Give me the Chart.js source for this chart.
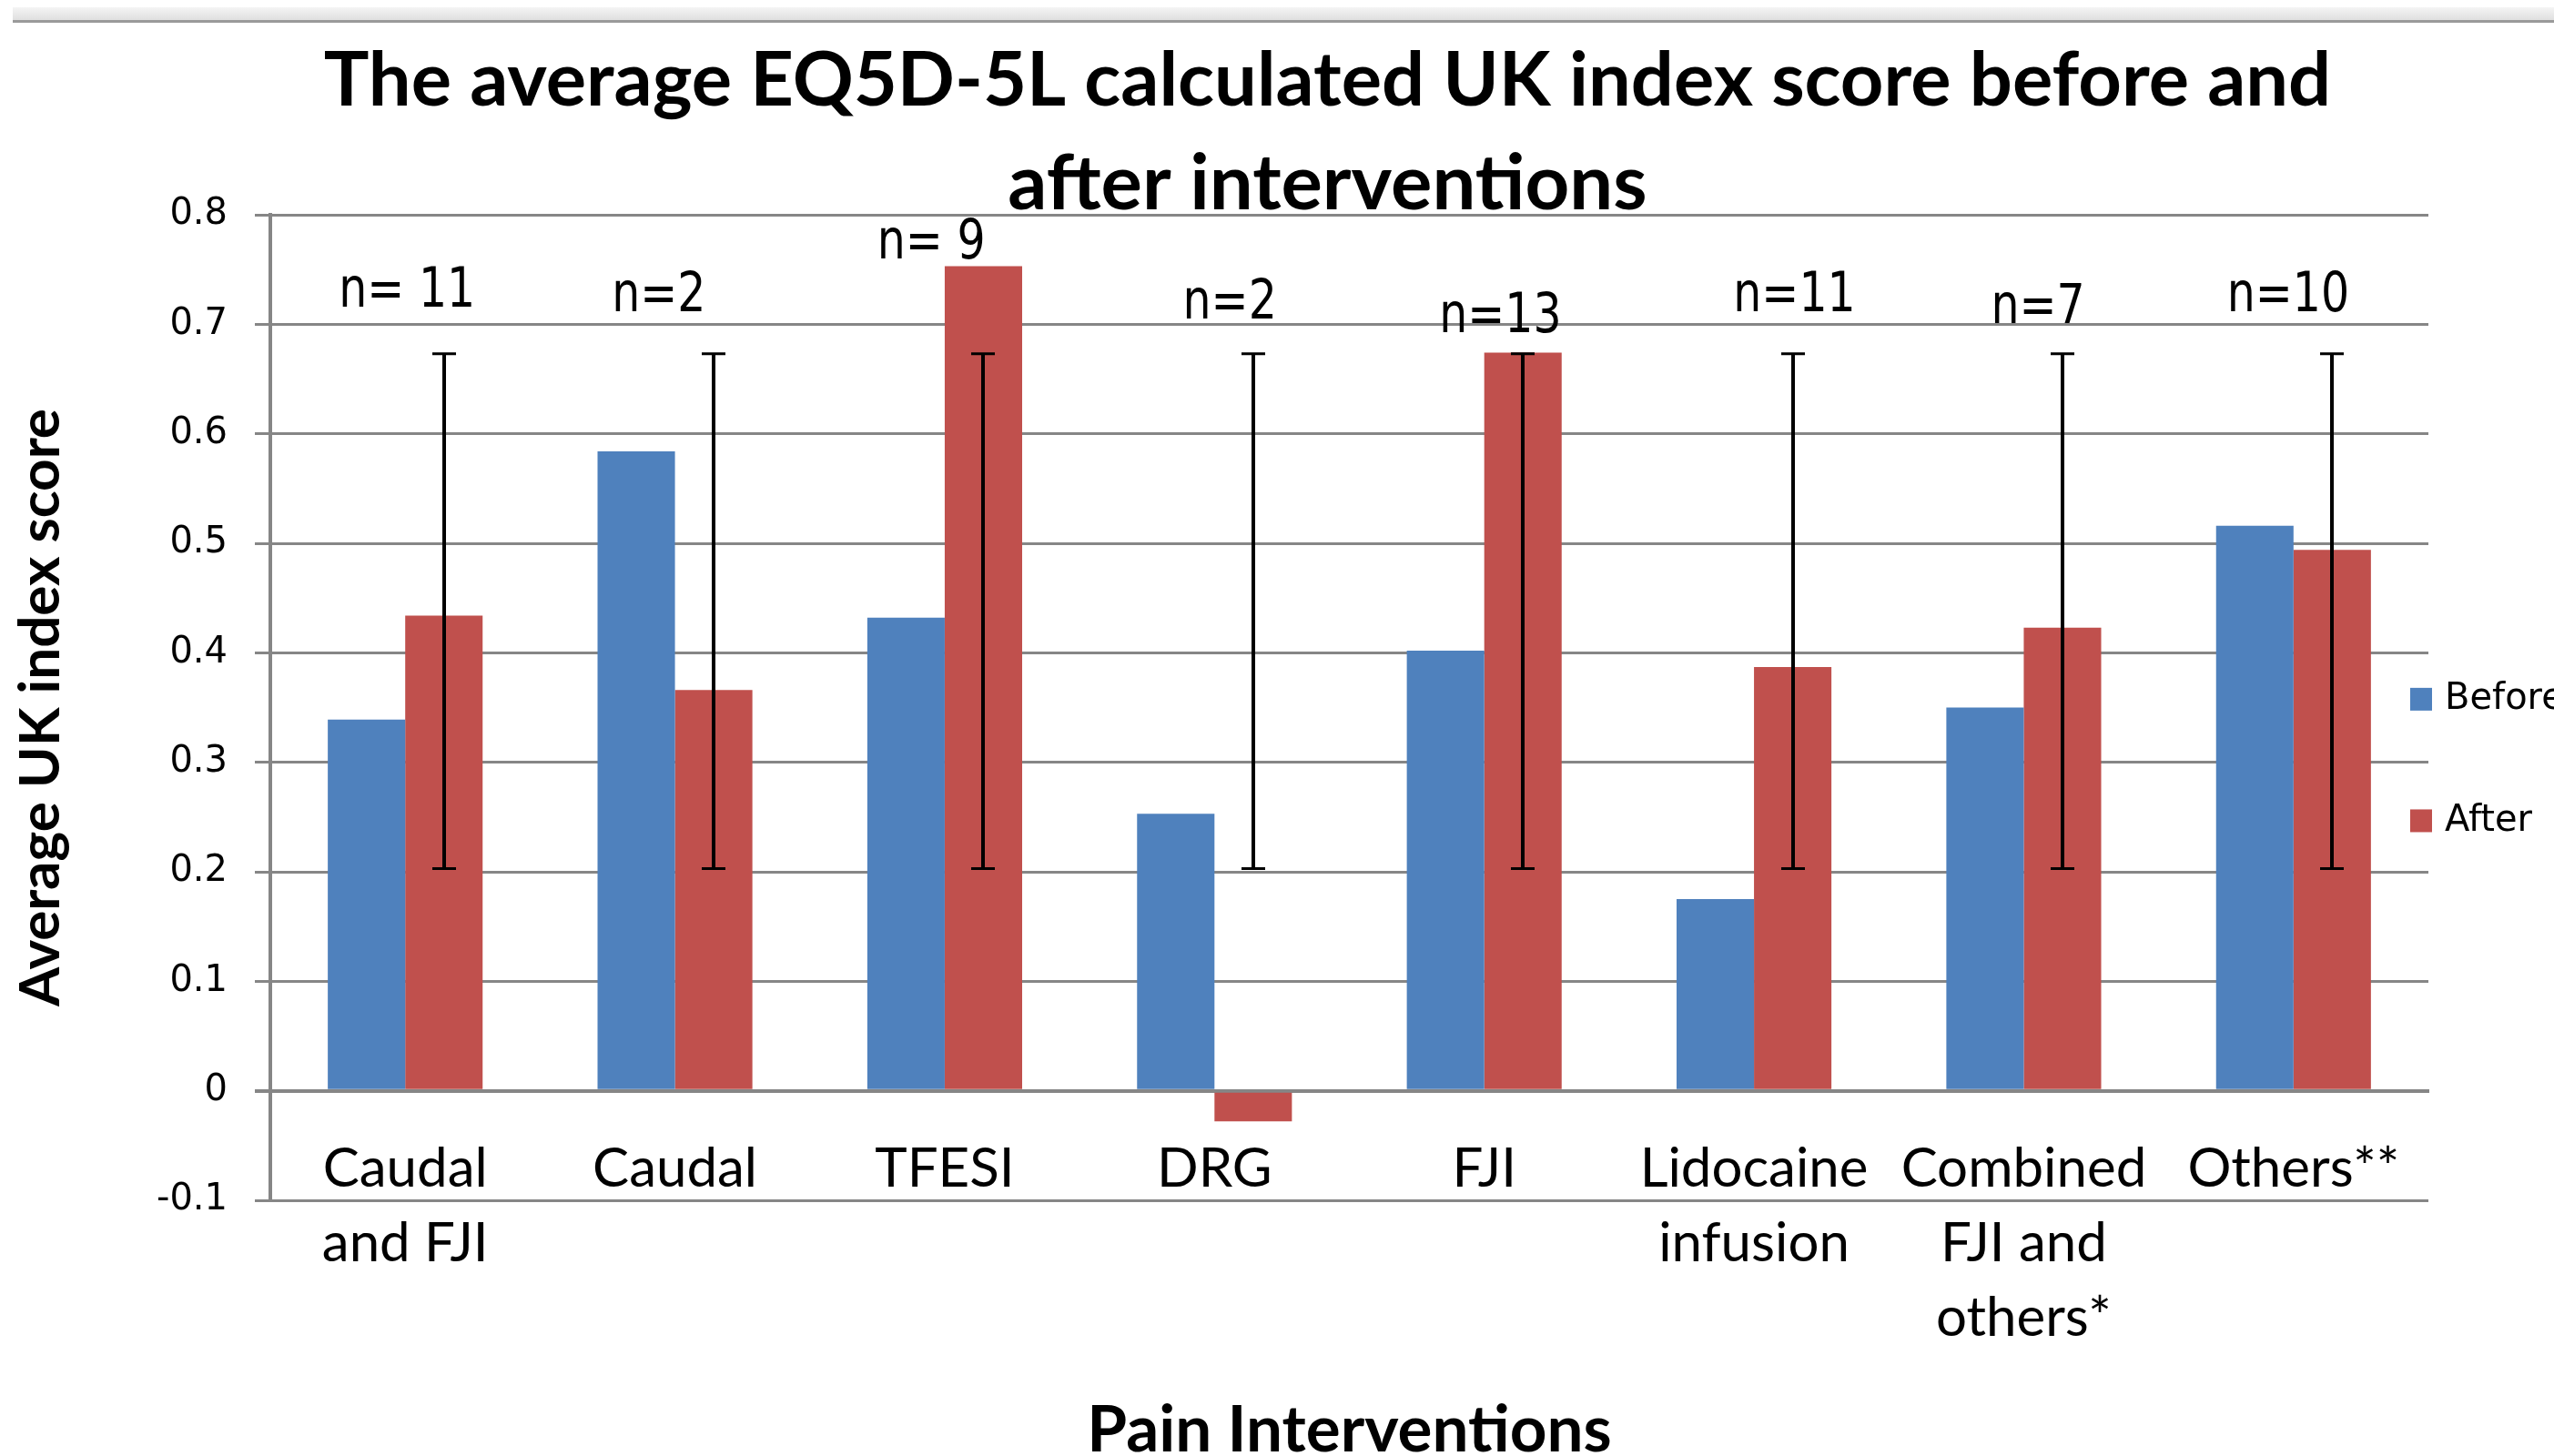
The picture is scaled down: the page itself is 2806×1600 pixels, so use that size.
<!DOCTYPE html>
<html>
<head>
<meta charset="utf-8">
<script src="https://cdn.jsdelivr.net/npm/chart.js@4.4.1/dist/chart.umd.min.js"></script>
<style>
  html, body { margin: 0; padding: 0; background: #ffffff; }
  #wrap { width: 2806px; height: 1600px; position: relative; }
</style>
</head>
<body>
<div id="wrap"><canvas id="c"></canvas></div>
<script>
// ---------------- data ----------------
const categories = [['Caudal', 'and FJI'], 'Caudal', 'TFESI', 'DRG', 'FJI', ['Lidocaine', 'infusion'], ['Combined', 'FJI and', 'others*'], 'Others**'];
const seriesNames = ['Before', 'After'];
const beforeValues = [0.339, 0.584, 0.432, 0.253, 0.402, 0.175, 0.350, 0.516];
const afterValues = [0.434, 0.366, 0.753, -0.028, 0.674, 0.387, 0.423, 0.494];
const errorLow = [0.203, 0.203, 0.203, 0.203, 0.203, 0.203, 0.203, 0.203];
const errorHigh = [0.673, 0.673, 0.673, 0.673, 0.673, 0.673, 0.673, 0.673];
const sampleSizes = ['n= 11', 'n=2', 'n= 9', 'n=2', 'n=13', 'n=11', 'n=7', 'n=10'];
const yTickLabels = ['-0.1', '0', '0.1', '0.2', '0.3', '0.4', '0.5', '0.6', '0.7', '0.8'];
const titleLines = ['The average EQ5D-5L calculated UK index score before and', 'after interventions'];
const xTitle = 'Pain Interventions';
const yTitle = 'Average UK index score';

// annotation placement of the "n=" text boxes (category offset, value height)
const nLabelShift = [0.007, -0.06, -0.05, 0.057, 0.06, 0.15, 0.053, -0.02];
const nLabelHeight = [0.729, 0.725, 0.773, 0.718, 0.706, 0.725, 0.714, 0.725];

const BLUE = '#4F81BD';
const RED = '#C0504D';
const GRID = '#868686';

const overlay = {
  id: 'overlay',
  beforeDraw(chart) {
    const ctx = chart.ctx;
    ctx.save();
    ctx.fillStyle = '#ffffff';
    ctx.fillRect(0, 0, chart.width, chart.height);
    // top strip (window ruler)
    const g = ctx.createLinearGradient(0, 8, 0, 24);
    g.addColorStop(0, '#f4f4f4');
    g.addColorStop(1, '#dcdcdc');
    ctx.fillStyle = g;
    ctx.fillRect(14, 8, chart.width - 14, 15);
    ctx.fillStyle = '#9a9a9a';
    ctx.fillRect(14, 22, chart.width - 14, 3);
    ctx.restore();
  },
  afterDatasetsDraw(chart) {
    const ctx = chart.ctx;
    const y = chart.scales.y;
    const meta = chart.getDatasetMeta(1);
    ctx.save();
    ctx.strokeStyle = '#000000';
    ctx.lineWidth = 4;
    meta.data.forEach((bar, i) => {
      const x = Math.round(bar.x);
      const yt = y.getPixelForValue(errorHigh[i]);
      const yb = y.getPixelForValue(errorLow[i]);
      ctx.beginPath();
      ctx.moveTo(x, yt); ctx.lineTo(x, yb);
      ctx.stroke();
      ctx.lineWidth = 3;
      ctx.beginPath();
      ctx.moveTo(x - 13, yt); ctx.lineTo(x + 13, yt);
      ctx.moveTo(x - 13, yb); ctx.lineTo(x + 13, yb);
      ctx.stroke();
      ctx.lineWidth = 4;
    });
    ctx.restore();
  },
  afterDraw(chart) {
    const ctx = chart.ctx;
    const xs = chart.scales.x;
    const ys = chart.scales.y;
    const area = chart.chartArea;
    const catW = (area.right - area.left) / categories.length;
    ctx.save();
    // n= labels
    ctx.fillStyle = '#000000';
    ctx.font = '49px "DejaVu Sans"';
    ctx.textAlign = 'center';
    ctx.textBaseline = 'middle';
    sampleSizes.forEach((t, i) => {
      const x = xs.getPixelForValue(i) + nLabelShift[i] * catW;
      const yy = ys.getPixelForValue(nLabelHeight[i]);
      ctx.save();
      ctx.translate(x, yy);
      ctx.scale(1, 1.22);
      ctx.fillText(t, 0, 0);
      ctx.restore();
    });
    // title
    ctx.font = 'bold 83px Lato';
    ctx.textAlign = 'center';
    ctx.textBaseline = 'alphabetic';
    const tx = (area.left + area.right) / 2 - 24;
    ctx.fillText(titleLines[0], tx, area.top - 120);
    ctx.font = 'bold 85px Lato';
    ctx.fillText(titleLines[1], tx, area.top - 6);
    // legend
    ctx.font = '40px "DejaVu Sans"';
    ctx.textAlign = 'left';
    ctx.textBaseline = 'middle';
    const lx = area.right - 20;
    const legendY = [ys.getPixelForValue(0.358), ys.getPixelForValue(0.247)];
    chart.data.datasets.forEach((ds, i) => {
      ctx.fillStyle = ds.backgroundColor;
      ctx.fillRect(lx, legendY[i] - 12, 24, 25);
      ctx.fillStyle = '#000000';
      ctx.fillText(ds.label, lx + 38, legendY[i] + 1);
    });
    ctx.restore();
  }
};

new Chart(document.getElementById('c'), {
  type: 'bar',
  data: {
    labels: categories,
    datasets: [
      { label: seriesNames[0], data: beforeValues, backgroundColor: BLUE, borderWidth: 0 },
      { label: seriesNames[1], data: afterValues, backgroundColor: RED, borderWidth: 0 }
    ]
  },
  options: {
    responsive: true,
    maintainAspectRatio: false,
    animation: false,
    events: [],
    layout: { padding: { left: 0, top: 236, right: 138, bottom: 281 } },
    datasets: { bar: { categoryPercentage: 0.574, barPercentage: 1.0 } },
    plugins: {
      legend: { display: false },
      title: { display: false },
      tooltip: { enabled: false }
    },
    scales: {
      x: {
        position: { y: 0 },
        offset: true,
        grid: { display: false, drawTicks: false },
        border: { display: true, color: GRID, width: 4 },
        ticks: {
          autoSkip: false, maxRotation: 0, minRotation: 0,
          padding: 45,
          color: '#000000',
          font: { family: 'Lato', size: 60, lineHeight: 1.367 }
        },
        title: {
          display: true, text: xTitle, color: '#000000',
          font: { family: 'Lato', size: 71, weight: 'bold', lineHeight: 1.2 },
          padding: { top: 0, bottom: 0 }
        },
        afterFit(scale) { scale.height = 373 + 42.6; }
      },
      y: {
        min: -0.1, max: 0.8,
        ticks: {
          stepSize: 0.1,
          padding: 30,
          color: '#000000',
          font: { family: 'DejaVu Sans', size: 40 },
          callback: (v, i) => yTickLabels[i] !== undefined ? yTickLabels[i] : String(v)
        },
        grid: {
          color: GRID,
          lineWidth: (c) => (c.tick && Math.abs(c.tick.value) < 1e-9) ? 4 : 3,
          tickLength: 17,
          drawTicks: true
        },
        border: { display: true, color: GRID, width: 4 },
        title: {
          display: true, text: yTitle, color: '#000000',
          font: { family: 'Lato', size: 62, weight: 'bold', lineHeight: 1.2 },
          padding: { top: 8, bottom: 0 }
        },
        afterFit(scale) { scale.width = 297; }
      }
    }
  },
  plugins: [overlay]
});
</script>
</body>
</html>
